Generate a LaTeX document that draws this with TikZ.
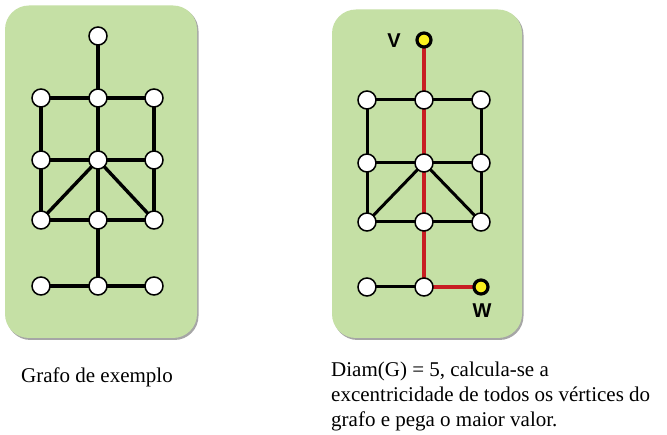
\documentclass[tikz,border=0pt]{standalone}
\usepackage{fontspec}
\setmainfont{Liberation Serif}
\newfontfamily\labfont{Liberation Sans}
\begin{document}
\begin{tikzpicture}[x=1pt,y=-1pt,
  panel/.style={fill=boxgreen,draw=none,rounded corners=24pt},
  panelshadow/.style={fill=black!35,draw=none,rounded corners=24pt},
  vtx/.style={circle,draw=black,line width=1.5pt,fill=white,minimum size=18pt,inner sep=0pt},
  hl/.style={circle,draw=black,line width=3.2pt,fill=yellowv,minimum size=14pt,inner sep=0pt},
  edgeL/.style={line width=3.4pt,black},
  edgeR/.style={line width=3pt,black},
  redge/.style={line width=4.8pt,redp},
  lab/.style={font=\labfont\bfseries\fontsize{20}{20}\selectfont,inner sep=0pt},
  txt/.style={font=\fontsize{21}{25}\selectfont,inner sep=0pt,anchor=base west}
]
\definecolor{boxgreen}{RGB}{197,224,165}
\definecolor{yellowv}{RGB}{250,240,30}
\definecolor{redp}{RGB}{200,30,35}
\useasboundingbox (0,0) rectangle (667,435);
\fill[white] (0,0) rectangle (667,435);
% panels
\fill[panelshadow] (6.5,7) rectangle (198.5,340);
\fill[panel] (5,5.5) rectangle (197,338);
\fill[panelshadow] (333.5,11) rectangle (523.5,340);
\fill[panel] (332,9.5) rectangle (522,338);
% left graph nodes (coordinates)
\coordinate (at) at (98,36);
\coordinate (a1l) at (41,98);
\coordinate (a1m) at (98,98);
\coordinate (a1r) at (154,98);
\coordinate (a2l) at (41,160);
\coordinate (a2m) at (98,160);
\coordinate (a2r) at (154,160);
\coordinate (a3l) at (41,220);
\coordinate (a3m) at (98,220);
\coordinate (a3r) at (154,220);
\coordinate (a4l) at (41,286);
\coordinate (a4m) at (98,286);
\coordinate (a4r) at (154,286);
% right graph nodes (coordinates)
\coordinate (bv) at (424,40);
\coordinate (b1l) at (367,100);
\coordinate (b1m) at (424,100);
\coordinate (b1r) at (481,100);
\coordinate (b2l) at (367,163);
\coordinate (b2m) at (424,163);
\coordinate (b2r) at (481,163);
\coordinate (b3l) at (367,222);
\coordinate (b3m) at (424,222);
\coordinate (b3r) at (481,222);
\coordinate (b4l) at (367,287);
\coordinate (b4m) at (424,287);
\coordinate (bw) at (481,287);
% left edges
\draw[edgeL] (at) -- (a1m);
\draw[edgeL] (a1l) -- (a1m) -- (a1r);
\draw[edgeL] (a1l) -- (a2l) -- (a3l);
\draw[edgeL] (a1m) -- (a2m) -- (a3m) -- (a4m);
\draw[edgeL] (a1r) -- (a2r) -- (a3r);
\draw[edgeL] (a2l) -- (a2m) -- (a2r);
\draw[edgeL] (a2m) -- (a3l);
\draw[edgeL] (a2m) -- (a3r);
\draw[edgeL] (a3l) -- (a3m) -- (a3r);
\draw[edgeL] (a4l) -- (a4m) -- (a4r);
% right edges
\draw[edgeR] (b1l) -- (b1m) -- (b1r);
\draw[edgeR] (b1l) -- (b2l) -- (b3l);
\draw[edgeR] (b1r) -- (b2r) -- (b3r);
\draw[edgeR] (b2l) -- (b2m) -- (b2r);
\draw[edgeR] (b2m) -- (b3l);
\draw[edgeR] (b2m) -- (b3r);
\draw[edgeR] (b3l) -- (b3m) -- (b3r);
\draw[edgeR] (b4l) -- (b4m);
\draw[redge] (bv) -- (b1m) -- (b2m) -- (b3m) -- (b4m) -- (bw);
% vertices on top
\foreach \n in {at,a1l,a1m,a1r,a2l,a2m,a2r,a3l,a3m,a3r,a4l,a4m,a4r,b1l,b1m,b1r,b2l,b2m,b2r,b3l,b3m,b3r,b4l,b4m}
  \node[vtx] (n\n) at (\n) {};
\node[hl] (nbv) at (bv) {};
\node[hl] (nbw) at (bw) {};
% labels
\node[lab] (lv) at (394,41) {V};
\node[lab] (lw) at (482,311) {W};
% texts
\node[txt] (t1) at (21,383) {Grafo de exemplo};
\node[txt] (t2) at (331,377) {Diam(G) = 5, calcula-se a};
\node[txt] (t3) at (331,402) {excentricidade de todos os vértices do};
\node[txt] (t4) at (331,427) {grafo e pega o maior valor.};
\end{tikzpicture}
\end{document}
